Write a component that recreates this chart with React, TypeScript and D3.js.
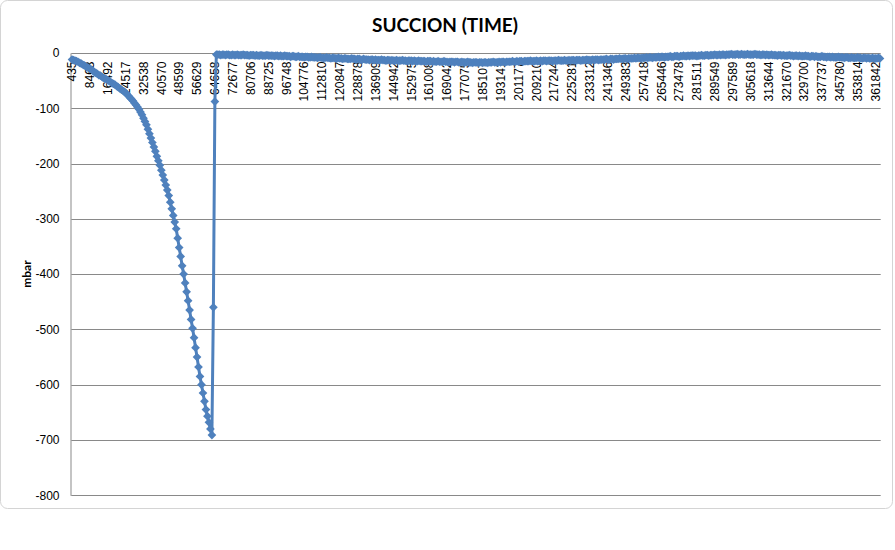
import React from "react";
import * as d3 from "d3";

// x axis labels (one every 12 samples)
const tickLabels: string[] = [
  "435", "8463", "16492", "24517", "32538", "40570", "48599", "56629", "64658", "72677",
  "80706", "88725", "96748", "104776", "112810", "120847", "128878", "136909", "144942", "152975",
  "161008", "169042", "177075", "185107", "193141", "201177", "209210", "217244", "225281", "233312",
  "241346", "249383", "257418", "265446", "273478", "281511", "289549", "297589", "305618", "313644",
  "321670", "329700", "337737", "345780", "353814", "361842",
];
const labelEvery = 12;

// suction build-up (mbar)
const descentValues: number[] = [
  -12, -13, -14, -15, -16, -18, -19, -21, -22, -24,
  -26, -27, -29, -30, -32, -35, -36, -38, -40, -41,
  -43, -45, -46, -48, -49, -51, -53, -55, -56, -58,
  -60, -62, -64, -66, -68, -70, -72, -75, -78, -81,
  -84, -87, -91, -94, -98, -102, -107, -112, -118, -124,
  -130, -138, -146, -154, -162, -170, -178, -187, -195, -203,
  -212, -221, -230, -239, -248, -258, -270, -282, -294, -306,
  -318, -335, -352, -368, -385, -400, -416, -432, -448, -465,
  -482, -498, -515, -533, -550, -568, -585, -600, -615, -630,
  -645, -657, -668, -680, -691,
];

// release
const releaseValues: number[] = [-460, -88];

// after release
const recoveryValues: number[] = [
  -3, -3, -3, -4, -3, -3, -4, -3, -3, -4, -4, -3, -4, -4, -3, -4, -4, -4, -3, -4,
  -4, -4, -5, -4, -4, -4, -5, -4, -5, -5, -4, -5, -5, -5, -4, -5, -5, -5, -5, -6,
  -5, -5, -6, -5, -6, -6, -5, -6, -6, -6, -7, -6, -6, -7, -7, -6, -7, -7, -7, -8,
  -7, -7, -8, -8, -7, -8, -8, -8, -9, -8, -8, -9, -9, -9, -8, -9, -9, -10, -9, -9,
  -10, -10, -9, -10, -10, -11, -10, -10, -11, -11, -11, -10, -11, -11, -12, -11, -11, -12, -12, -11,
  -12, -12, -12, -13, -12, -12, -13, -12, -13, -13, -13, -12, -13, -13, -14, -13, -13, -14, -13, -14,
  -14, -13, -14, -14, -14, -13, -14, -14, -15, -14, -14, -14, -15, -14, -15, -15, -14, -15, -15, -15,
  -15, -16, -15, -15, -15, -16, -15, -16, -16, -15, -16, -16, -16, -15, -16, -16, -17, -16, -16, -16,
  -17, -16, -16, -17, -17, -16, -17, -17, -17, -16, -17, -17, -18, -17, -17, -17, -18, -17, -17, -18,
  -17, -17, -18, -17, -17, -17, -16, -17, -17, -17, -16, -17, -16, -16, -17, -16, -16, -16, -16, -15,
  -16, -16, -15, -16, -15, -15, -16, -15, -15, -15, -15, -14, -15, -15, -15, -14, -15, -15, -14, -15,
  -14, -14, -15, -14, -14, -14, -15, -14, -14, -14, -13, -14, -14, -14, -13, -14, -14, -13, -14, -13,
  -13, -14, -13, -13, -13, -14, -13, -13, -13, -12, -13, -13, -13, -12, -13, -12, -12, -13, -12, -12,
  -12, -12, -11, -12, -12, -11, -11, -12, -11, -11, -11, -10, -11, -11, -10, -10, -11, -10, -10, -10,
  -10, -9, -10, -9, -9, -10, -9, -9, -9, -8, -9, -8, -8, -9, -8, -8, -8, -7, -8, -7,
  -7, -8, -7, -7, -7, -6, -7, -7, -6, -6, -6, -7, -6, -6, -5, -6, -6, -5, -6, -5,
  -5, -5, -5, -6, -5, -5, -4, -5, -5, -4, -4, -5, -4, -4, -4, -3, -4, -4, -3, -4,
  -3, -3, -4, -3, -3, -3, -2, -3, -3, -3, -2, -3, -3, -2, -3, -3, -3, -2, -3, -3,
  -3, -3, -2, -3, -3, -3, -4, -3, -3, -4, -3, -4, -4, -3, -4, -4, -4, -5, -4, -4,
  -5, -4, -5, -5, -5, -4, -5, -5, -6, -5, -5, -6, -5, -6, -6, -6, -5, -6, -6, -7,
  -6, -6, -7, -6, -7, -7, -7, -6, -7, -7, -8, -7, -7, -8, -7, -8, -8, -8, -7, -8,
  -8, -8, -9, -8, -8, -9, -9, -8, -9, -9, -9, -8, -9, -9, -10, -9, -9, -10, -9, -10,
  -10, -9, -10, -10, -10, -9, -10,
];

const yTicks: number[] = [0, -100, -200, -300, -400, -500, -600, -700, -800];

const SuccionChart: React.FC = () => {
  const svgRef = React.useRef<SVGSVGElement | null>(null);

  React.useEffect(() => {
    if (!svgRef.current) return;
    const svg = d3.select(svgRef.current);
    svg.selectAll("*").remove();

    const width = 895;
    const height = 550;
    const plot = { left: 71.3, right: 880.7, top: 52.9, bottom: 495.3 };
    const blue = "#4f81bd";
    const grid = "#898989";

    const values = [...descentValues, ...releaseValues, ...recoveryValues];

    svg.attr("width", width).attr("height", height);

    // chart area frame
    svg
      .append("rect")
      .attr("x", 0.5)
      .attr("y", 0.5)
      .attr("width", 892)
      .attr("height", 508)
      .attr("rx", 7)
      .attr("fill", "white")
      .attr("stroke", "#d4d4d4");

    const x = d3
      .scaleBand<number>()
      .domain(d3.range(values.length))
      .range([plot.left, plot.right]);
    const cx = (i: number) => (x(i) as number) + x.bandwidth() / 2;

    const y = d3.scaleLinear().domain([-800, 0]).range([plot.bottom, plot.top]);

    // horizontal gridlines
    svg
      .append("g")
      .selectAll("line")
      .data(yTicks)
      .join("line")
      .attr("x1", plot.left)
      .attr("x2", plot.right)
      .attr("y1", (d) => Math.round(y(d)) + 0.5)
      .attr("y2", (d) => Math.round(y(d)) + 0.5)
      .attr("stroke", grid)
      .attr("stroke-width", 1);

    // y axis
    const yAxisG = svg
      .append("g")
      .attr("transform", `translate(${Math.round(plot.left) - 0.5},0)`)
      .call(
        d3
          .axisLeft(y)
          .tickValues(yTicks)
          .tickSize(0)
          .tickPadding(11)
          .tickFormat((d) => String(d))
      );
    yAxisG.select(".domain").attr("stroke", grid);
    yAxisG
      .selectAll("text")
      .attr("font-family", "'Liberation Sans', Arial, sans-serif")
      .attr("font-size", 12)
      .attr("fill", "#000");

    // x axis on the zero line, labels rotated
    const xAxisG = svg
      .append("g")
      .attr("transform", `translate(0,${Math.round(y(0)) + 0.5})`)
      .call(
        d3
          .axisBottom(x)
          .tickValues(d3.range(0, values.length, labelEvery).filter((i) => i / labelEvery < tickLabels.length))
          .tickSize(0)
          .tickFormat((d) => tickLabels[(d as number) / labelEvery])
      );
    xAxisG.select(".domain").remove();
    xAxisG
      .selectAll("text")
      .attr("font-family", "'Liberation Sans', Arial, sans-serif")
      .attr("font-size", 12)
      .attr("fill", "#000")
      .attr("transform", "rotate(-90)")
      .attr("text-anchor", "end")
      .attr("x", -8)
      .attr("y", 0)
      .attr("dy", "0.36em");

    // series line
    const line = d3
      .line<number>()
      .x((_, i) => cx(i))
      .y((d) => y(d));

    svg
      .append("path")
      .datum(values)
      .attr("d", line)
      .attr("fill", "none")
      .attr("stroke", blue)
      .attr("stroke-width", 3)
      .attr("stroke-linejoin", "round");

    // diamond markers
    const diamond = d3.symbol(d3.symbolSquare, 38)();
    svg
      .append("g")
      .selectAll("path")
      .data(values)
      .join("path")
      .attr("d", diamond)
      .attr("transform", (d, i) => `translate(${cx(i)},${y(d)}) rotate(45)`)
      .attr("fill", blue);

    // title
    svg
      .append("text")
      .attr("x", 445)
      .attr("y", 32)
      .attr("text-anchor", "middle")
      .attr("font-family", "Lato, 'Open Sans', sans-serif")
      .attr("font-weight", "bold")
      .attr("font-size", 19)
      .attr("fill", "#000")
      .text("SUCCION (TIME)");

    // y axis title
    svg
      .append("text")
      .attr("transform", `translate(31,${(plot.top + plot.bottom) / 2}) rotate(-90)`)
      .attr("text-anchor", "middle")
      .attr("font-family", "Lato, 'Open Sans', sans-serif")
      .attr("font-weight", "bold")
      .attr("font-size", 12)
      .attr("fill", "#000")
      .text("mbar");
  }, []);

  return <svg ref={svgRef} style={{ position: "absolute", left: 0, top: 0 }}></svg>;
};

export default function App() {
  return <SuccionChart />;
}
